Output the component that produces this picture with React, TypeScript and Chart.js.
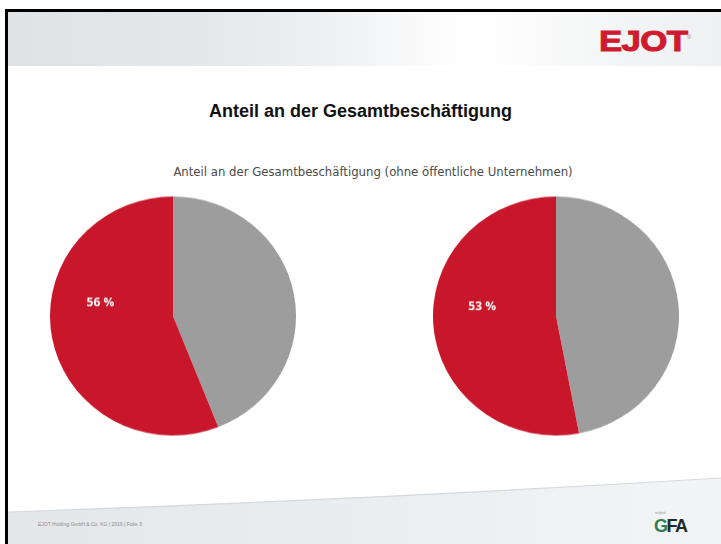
import React, { useEffect, useRef } from "react";
import { Chart, registerables } from "chart.js";

Chart.register(...registerables);

// ---- data ----
const categories = ["Übrige", "Anteil"];
const leftValues = [44, 56];
const rightValues = [47, 53];
const sliceColors = ["#9d9d9d", "#c8172b"];
const titleText = "Anteil an der Gesamtbeschäftigung";
const subtitleText = "Anteil an der Gesamtbeschäftigung (ohne öffentliche Unternehmen)";
const footerText = "EJOT Holding GmbH & Co. KG | 2019 | Folie 3";

const pctLabelPlugin = {
  id: "pctLabel",
  afterDatasetsDraw(chart: any, _args: any, opts: any) {
    const meta = chart.getDatasetMeta(0);
    const arc = meta.data[opts.index];
    if (!arc) return;
    const value = chart.data.datasets[0].data[opts.index];
    const r = arc.outerRadius;
    const ctx = chart.ctx;
    ctx.save();
    ctx.fillStyle = "#ffffff";
    ctx.font = "bold 12px 'Open Sans', 'DejaVu Sans', sans-serif";
    ctx.textAlign = "center";
    ctx.textBaseline = "middle";
    ctx.fillText(value + " %", arc.x + opts.dx * r, arc.y + opts.dy * r);
    ctx.restore();
  },
};

function PieChart(props: {
  values: number[];
  left: number;
  top: number;
  size: number;
  sy: number;
  dx: number;
  dy: number;
}) {
  const ref = useRef<HTMLCanvasElement | null>(null);
  useEffect(() => {
    if (!ref.current) return;
    const chart = new Chart(ref.current, {
      type: "pie",
      data: {
        labels: categories,
        datasets: [
          {
            data: props.values,
            backgroundColor: sliceColors,
            borderWidth: 0,
          },
        ],
      },
      options: {
        animation: false,
        responsive: false,
        maintainAspectRatio: false,
        devicePixelRatio: 1,
        layout: { padding: 0 },
        plugins: {
          legend: { display: false },
          tooltip: { enabled: false },
          pctLabel: { index: 1, dx: props.dx, dy: props.dy },
        } as any,
      },
      plugins: [pctLabelPlugin],
    });
    return () => chart.destroy();
  }, []);
  return (
    <div
      style={{
        position: "absolute",
        left: props.left,
        top: props.top,
        width: props.size,
        height: props.size,
        transform: `scale(1, ${props.sy})`,
        transformOrigin: "50% 50%",
      }}
    >
      <canvas ref={ref} width={props.size} height={props.size} style={{ width: props.size, height: props.size, display: "block" }} />
    </div>
  );
}

export default function App() {
  return (
    <div
      style={{
        position: "fixed",
        left: 0,
        top: 0,
        width: 721,
        height: 544,
        background: "#ffffff",
        overflow: "hidden",
        fontFamily: "'Liberation Sans', Arial, sans-serif",
      }}
    >
      {/* slide frame */}
      <div style={{ position: "absolute", left: 5, top: 9, width: 716, height: 3, background: "#000" }} />
      <div style={{ position: "absolute", left: 5, top: 9, width: 3, height: 535, background: "#000" }} />

      {/* header band */}
      <div
        style={{
          position: "absolute",
          left: 8,
          top: 12,
          width: 713,
          height: 54,
          background:
            "linear-gradient(to right, #dfe3e6 0%, #e3e7e9 25%, #eef0f2 45%, #fcfcfc 60%, #ffffff 66%, #f4f5f6 85%, #eef0f1 100%)",
        }}
      />
      {/* logo */}
      <div
        style={{
          position: "absolute",
          left: 599,
          top: 24,
          fontFamily: "'Liberation Sans', Arial, sans-serif",
          fontWeight: 900,
          fontSize: 29,
          color: "#d01a30",
          letterSpacing: -0.5,
          transform: "scaleX(1.2)",
          transformOrigin: "0 0",
          lineHeight: "34px",
          WebkitTextStroke: "1px #d01a30",
        }}
      >
        EJOT
      </div>
      <div style={{ position: "absolute", left: 687, top: 34, fontSize: 6, color: "#888", lineHeight: "6px" }}>®</div>

      {/* title */}
      <div
        style={{
          position: "absolute",
          left: 0,
          width: 721,
          top: 100,
          textAlign: "center",
          fontWeight: "bold",
          fontSize: 18,
          color: "#111",
          lineHeight: "22px",
        }}
      >
        {titleText}
      </div>
      {/* subtitle */}
      <div
        style={{
          position: "absolute",
          left: 0,
          width: 746,
          top: 164,
          textAlign: "center",
          fontFamily: "'Liberation Sans Narrow', 'DejaVu Sans Condensed', 'Open Sans', sans-serif",
          fontStretch: "condensed",
          fontSize: 13,
          color: "#4a4a4a",
          lineHeight: "16px",
        }}
      >
        {subtitleText}
      </div>

      <PieChart values={leftValues} left={50} top={193} size={246} sy={0.9715} dx={-0.59} dy={-0.11} />
      <PieChart values={rightValues} left={433} top={193} size={246} sy={0.9715} dx={-0.6} dy={-0.08} />

      {/* footer */}
      <svg width={721} height={80} style={{ position: "absolute", left: 0, top: 464 }}>
        <defs>
          <linearGradient id="fg" x1="0" y1="0" x2="1" y2="0">
            <stop offset="0" stopColor="#e3e7e9" />
            <stop offset="0.6" stopColor="#eceff1" />
            <stop offset="1" stopColor="#f3f4f5" />
          </linearGradient>
        </defs>
        <path d="M8 48 Q 360 36 721 14 L721 80 L8 80 Z" fill="url(#fg)" />
        <path d="M8 48 Q 360 36 721 14" stroke="#d5d9dc" strokeWidth={1.2} fill="none" />
      </svg>
      <div style={{ position: "absolute", left: 38, top: 521, fontSize: 5, color: "#8a8a8a", lineHeight: "6px", whiteSpace: "nowrap" }}>
        {footerText}
      </div>
      <div style={{ position: "absolute", left: 655, top: 512, fontSize: 3, color: "#999", lineHeight: "3px", whiteSpace: "nowrap" }}>
        mitglied
      </div>
      <div
        style={{
          position: "absolute",
          left: 654,
          top: 516,
          fontSize: 18,
          fontWeight: 900,
          color: "#1d2b2b",
          lineHeight: "20px",
          letterSpacing: -1.5,
        }}
      >
        <span style={{ color: "#2f7d4a" }}>G</span>FA
      </div>
    </div>
  );
}
